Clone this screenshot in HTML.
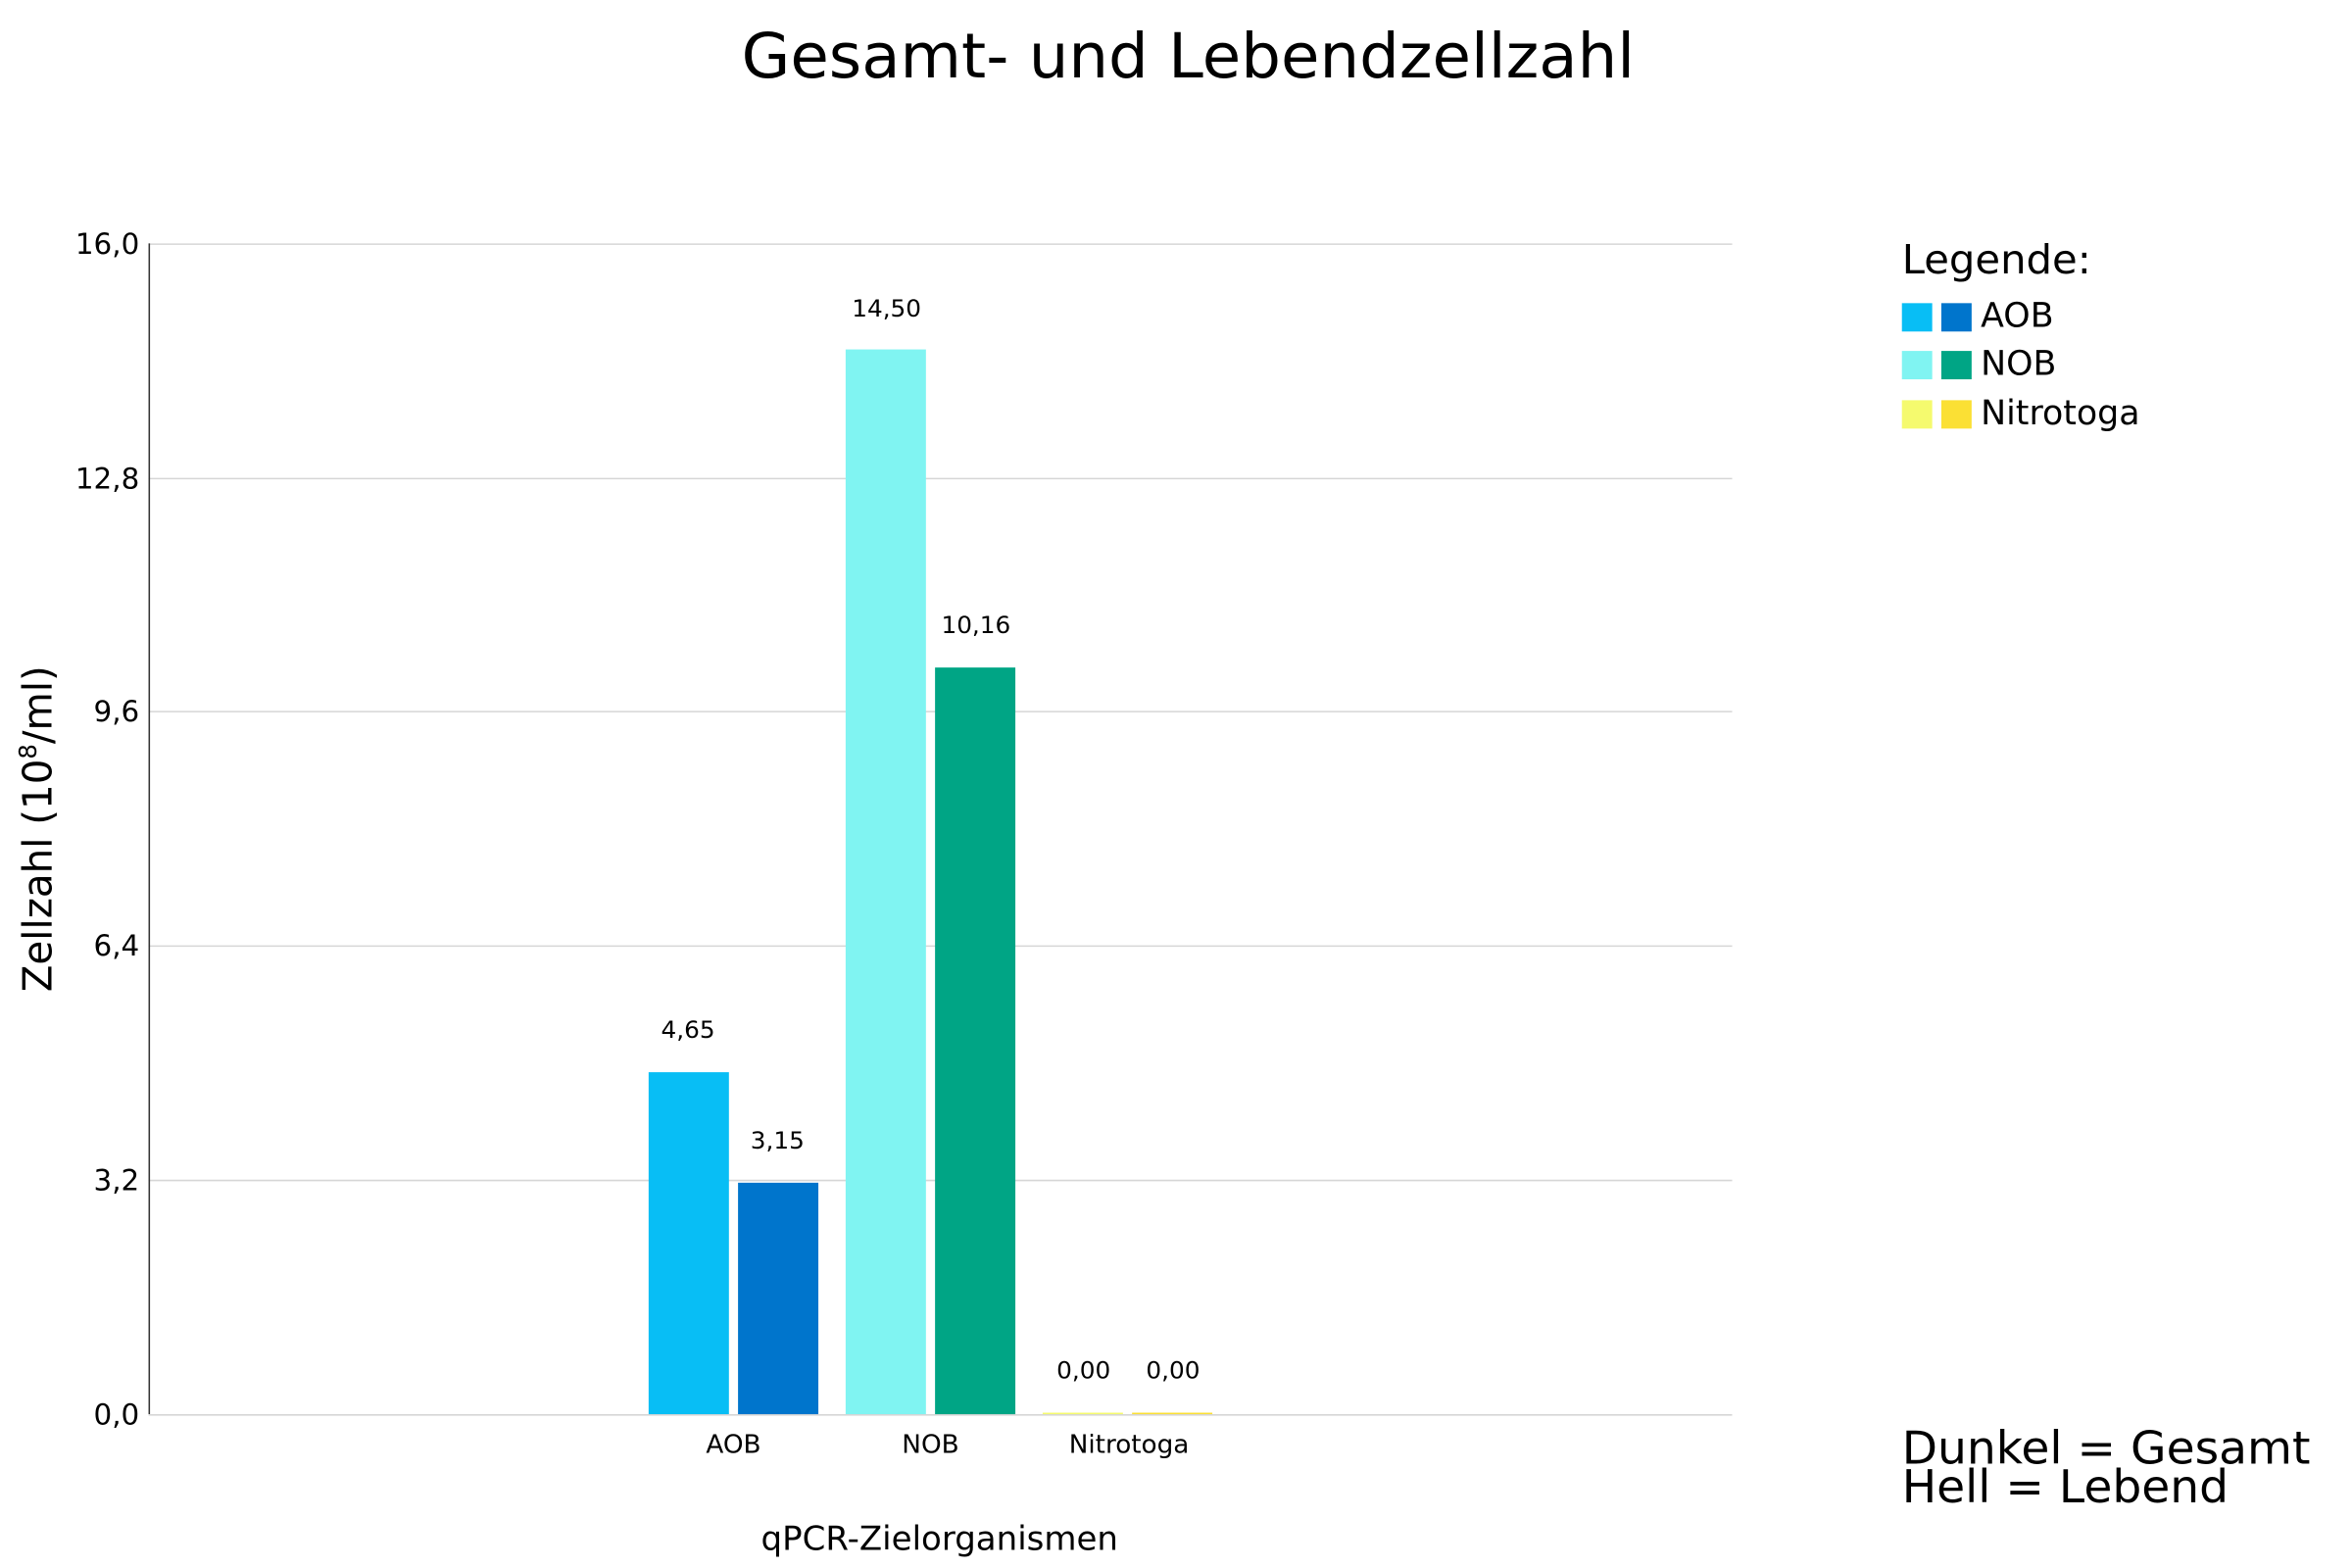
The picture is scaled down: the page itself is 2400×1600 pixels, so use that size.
<!DOCTYPE html>
<html><head><meta charset="utf-8"><style>html,body{margin:0;padding:0;background:#fff}svg{display:block}</style></head>
<body>
<svg width="2400" height="1600" viewBox="0 0 1552 1050" preserveAspectRatio="none" xmlns="http://www.w3.org/2000/svg" font-family="DejaVu Sans, Liberation Sans, sans-serif">
<rect width="1552" height="1050" fill="#fff"/>
<text x="784" y="52" font-size="41.5" text-anchor="middle">Gesamt- und Lebendzellzahl</text>
<g stroke="#d6d6d6" stroke-width="1">
<line x1="98" y1="163.5" x2="1143" y2="163.5"/>
<line x1="98" y1="320.5" x2="1143" y2="320.5"/>
<line x1="98" y1="476.5" x2="1143" y2="476.5"/>
<line x1="98" y1="633.5" x2="1143" y2="633.5"/>
<line x1="98" y1="790.5" x2="1143" y2="790.5"/>
<line x1="98" y1="947.5" x2="1143" y2="947.5"/>
</g>
<line x1="98.5" y1="163" x2="98.5" y2="947" stroke="#333" stroke-width="1"/>
<g font-size="19" text-anchor="end">
<text x="92" y="170">16,0</text>
<text x="92" y="327">12,8</text>
<text x="92" y="483">9,6</text>
<text x="92" y="640">6,4</text>
<text x="92" y="797">3,2</text>
<text x="92" y="954">0,0</text>
</g>
<text transform="translate(34,555) rotate(-90)" font-size="26.5" text-anchor="middle">Zellzahl (10<tspan font-size="16" dy="-10">8</tspan><tspan dy="10">/ml)</tspan></text>
<rect x="428" y="718" width="53" height="229" fill="#08BEF5"/>
<rect x="487" y="792" width="53" height="155" fill="#0075CC"/>
<rect x="558" y="234" width="53" height="713" fill="#80F4F2"/>
<rect x="617" y="447" width="53" height="500" fill="#00A585"/>
<rect x="688" y="946" width="53" height="1" fill="#F5FA6E"/>
<rect x="747" y="946" width="53" height="1" fill="#FBE034"/>
<g font-size="16" text-anchor="middle">
<text x="454" y="695">4,65</text>
<text x="513" y="769">3,15</text>
<text x="585" y="212">14,50</text>
<text x="644" y="424">10,16</text>
<text x="715" y="923">0,00</text>
<text x="774" y="923">0,00</text>
</g>
<g font-size="17" text-anchor="middle">
<text x="484" y="973">AOB</text>
<text x="614" y="973">NOB</text>
<text x="745" y="973">Nitrotoga</text>
</g>
<text x="620" y="1038" font-size="22" text-anchor="middle">qPCR-Zielorganismen</text>
<text x="1255" y="183" font-size="27">Legende:</text>
<rect x="1255" y="203" width="20" height="19" fill="#08BEF5"/>
<rect x="1281" y="203" width="20" height="19" fill="#0075CC"/>
<rect x="1255" y="235" width="20" height="19" fill="#80F4F2"/>
<rect x="1281" y="235" width="20" height="19" fill="#00A585"/>
<rect x="1255" y="268" width="20" height="19" fill="#F5FA6E"/>
<rect x="1281" y="268" width="20" height="19" fill="#FBE034"/>
<g font-size="22.5">
<text x="1307" y="219">AOB</text>
<text x="1307" y="251">NOB</text>
<text x="1307" y="284">Nitrotoga</text>
</g>
<text x="1255" y="980" font-size="30.5">Dunkel = Gesamt</text>
<text x="1255" y="1006" font-size="30.5">Hell = Lebend</text>
</svg>
</body></html>
